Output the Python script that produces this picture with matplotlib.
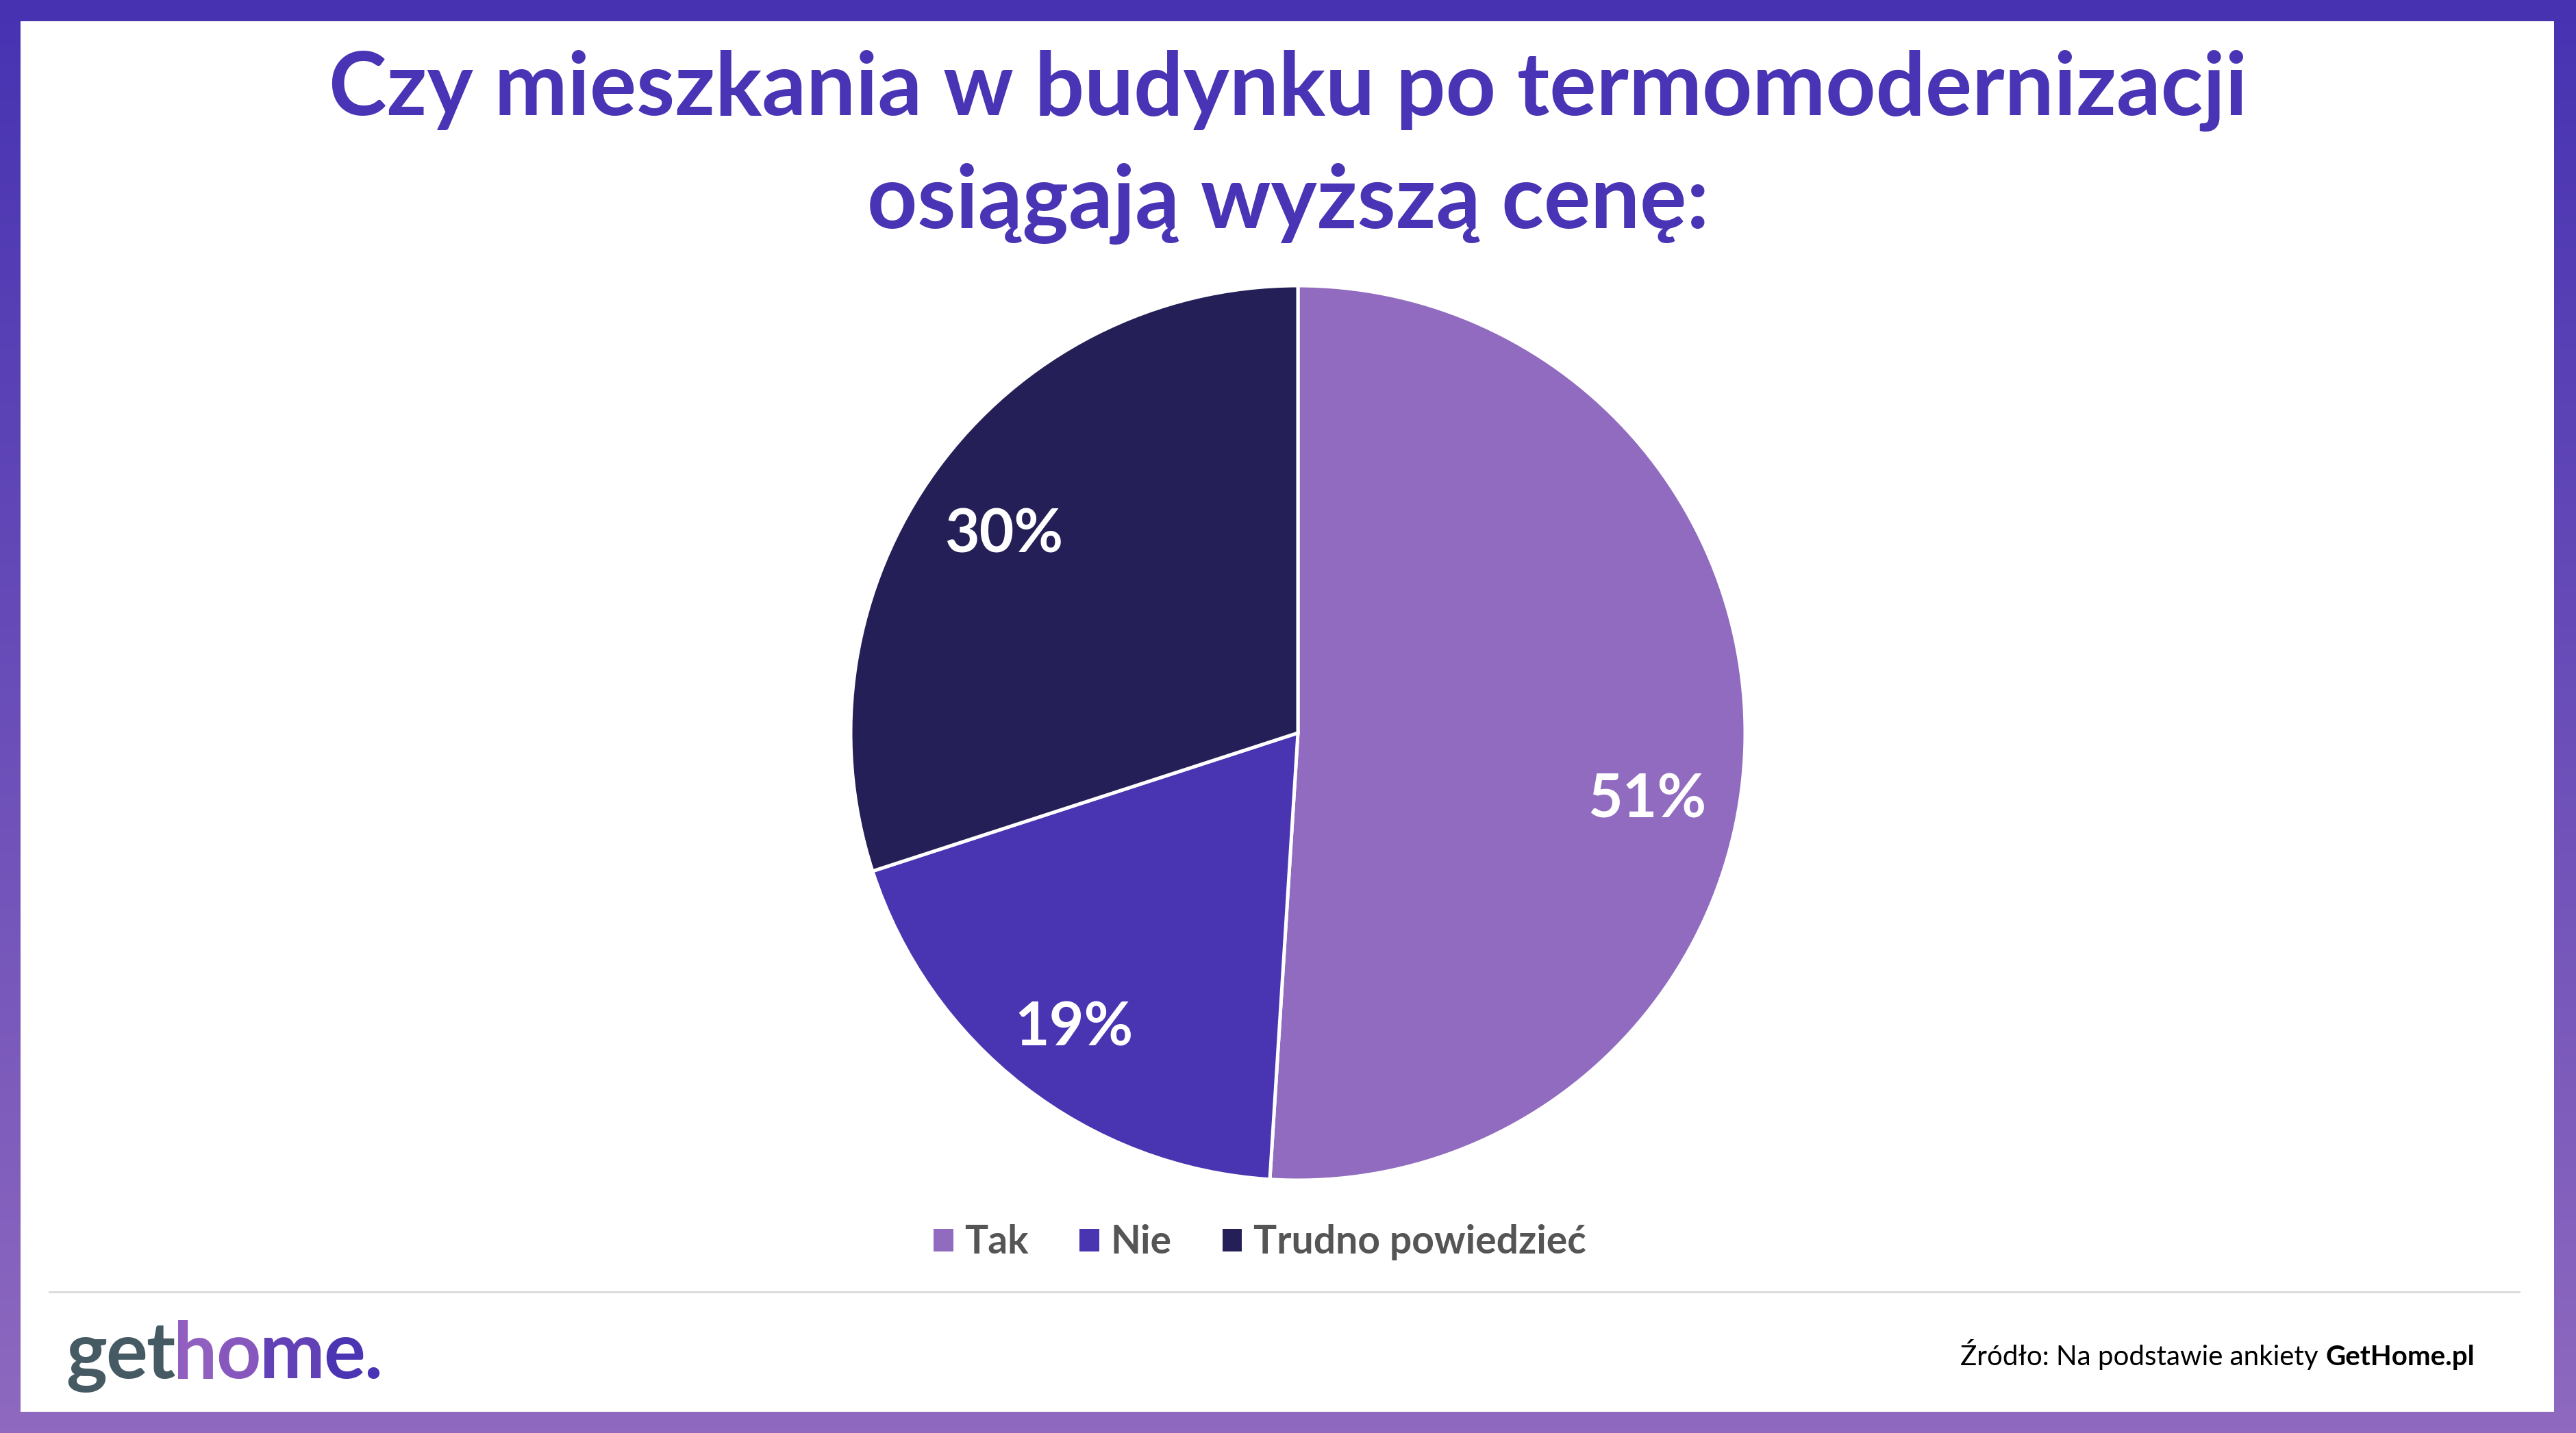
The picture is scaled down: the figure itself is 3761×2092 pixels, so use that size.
import matplotlib
matplotlib.use("Agg")
import matplotlib.pyplot as plt
import numpy as np
from matplotlib.patches import Rectangle
from matplotlib.colors import LinearSegmentedColormap

W, H, DPI = 3762, 2092, 100

title_lines = ["Czy mieszkania w budynku po termomodernizacji", "osiągają wyższą cenę:"]
labels = ["Tak", "Nie", "Trudno powiedzieć"]
values = [51, 19, 30]
colors = ["#916BBF", "#4935B1", "#241F57"]
label_shift = [-7, 0, 0]  # degrees, nudge for the pct labels
source_regular = "Źródło: Na podstawie ankiety "
source_bold = "GetHome.pl"
logo_chars = ["g", "e", "t", "h", "o", "m", "e", "."]
logo_colors = ["#465A64", "#465A64", "#465A64", "#915FBF", "#8757BE", "#6241B7", "#4C35B3", "#4834B4"]

FONT = ["Lato", "DejaVu Sans"]
plt.rcParams["font.family"] = FONT

fig = plt.figure(figsize=(W / DPI, H / DPI), dpi=DPI)

# gradient frame
bg = fig.add_axes([0, 0, 1, 1])
bg.set_axis_off()
cmap = LinearSegmentedColormap.from_list("frame", ["#4733B2", "#8E69BF"])
grad = np.linspace(0, 1, 256).reshape(-1, 1)
bg.imshow(grad, cmap=cmap, aspect="auto", extent=[0, W, H, 0])
bg.set_xlim(0, W)
bg.set_ylim(H, 0)
bg.add_patch(Rectangle((30, 31), W - 63, H - 62, facecolor="white", edgecolor="none"))
bg.plot([72, 3678], [1886, 1886], color="#DDDDDD", lw=2.2)

for line, yb in zip(title_lines, [168, 333]):
    fig.text(0.5, 1 - yb / H, line, ha="center", va="baseline", fontsize=92,
             fontweight="bold", color="#4834B4")

# pie
cx, cy, r = 1895, 1070, 653
ax = fig.add_axes([(cx - r) / W, (H - cy - r) / H, 2 * r / W, 2 * r / H])
wedges, _ = ax.pie(values, colors=colors, startangle=90, counterclock=False,
                   wedgeprops=dict(edgecolor="white", linewidth=3.6))
ax.set_xlim(-1, 1)
ax.set_ylim(-1, 1)
ax.set_aspect("equal")

for w, v, s in zip(wedges, values, label_shift):
    ang = np.deg2rad((w.theta1 + w.theta2) / 2 + s)
    ax.text(0.8 * np.cos(ang) - 0.01, 0.8 * np.sin(ang) - 0.028, f"{v}%", ha="center", va="center",
            fontsize=63, fontweight="bold", color="white")

leg = fig.legend(wedges, labels, loc="center", bbox_to_anchor=(0.489, 1 - 1814 / H),
                 ncol=3, frameon=False, handlelength=0.5, handleheight=0.5,
                 handletextpad=0.3, columnspacing=1.3, fontsize=41)
for t in leg.get_texts():
    t.set_color("#555555")
    t.set_fontweight("bold")
for h in leg.legend_handles:
    h.set_edgecolor("none")

# logo
renderer = fig.canvas.get_renderer()
x = 96
for ch, c in zip(logo_chars, logo_colors):
    t = fig.text(x / W, 1 - 2012 / H, ch, ha="left", va="baseline", fontsize=82,
                 fontweight="bold", color=c)
    bb = t.get_window_extent(renderer)
    x = bb.x1 - 2

# source
tb = fig.text(3613 / W, 1 - 1993 / H, source_bold, ha="right", va="baseline",
              fontsize=29, fontweight="bold", color="black")
bb = tb.get_window_extent(renderer)
fig.text(bb.x0 / W, 1 - 1993 / H, source_regular, ha="right", va="baseline",
         fontsize=29, color="black")

fig.savefig("out.png", dpi=DPI)
